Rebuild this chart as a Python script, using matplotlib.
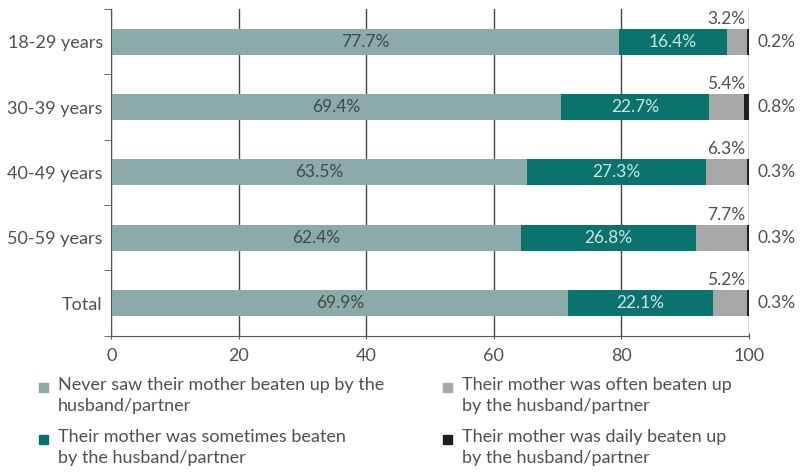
import numpy as np
import matplotlib
matplotlib.use("Agg")
import matplotlib.pyplot as plt
from matplotlib.patches import Rectangle

categories = ["18-29 years", "30-39 years", "40-49 years", "50-59 years", "Total"]
never = [77.7, 69.4, 63.5, 62.4, 69.9]
sometimes = [16.4, 22.7, 27.3, 26.8, 22.1]
often = [3.2, 5.4, 6.3, 7.7, 5.2]
daily = [0.2, 0.8, 0.3, 0.3, 0.3]

series_names = ["Never saw their mother beaten up by the\nhusband/partner",
                "Their mother was sometimes beaten\nby the husband/partner",
                "Their mother was often beaten up\nby the husband/partner",
                "Their mother was daily beaten up\nby the husband/partner"]
colors = ["#8aabaa", "#0b736d", "#a7a8aa", "#231f20"]

plt.rcParams['font.family'] = ['Lato', 'DejaVu Sans']
text_color = '#505050'

fig = plt.figure(figsize=(8, 4.75), dpi=100)
ax = fig.add_axes([0.139, 0.293, 0.797, 0.688])

data = np.array([never, sometimes, often, daily])
totals = data.sum(axis=0)
shares = data / totals * 100
y = np.arange(len(categories))
left = np.zeros(len(categories))
for i in range(4):
    ax.barh(y, shares[i], left=left, height=0.4, color=colors[i], zorder=2)
    left += shares[i]

# value labels
for j in range(len(categories)):
    c1 = shares[0, j] / 2
    ax.text(c1, y[j], f"{never[j]}%", ha='center', va='center',
            fontsize=12.5, color='#3f4a4a', zorder=3)
    c2 = shares[0, j] + shares[1, j] / 2
    ax.text(c2, y[j], f"{sometimes[j]}%", ha='center', va='center',
            fontsize=12.5, color='#cfe3e0', zorder=3)
    ax.text(99.4, y[j] - 0.23, f"{often[j]}%", ha='right', va='bottom',
            fontsize=12.5, color=text_color)
    ax.text(101.4, y[j], f"{daily[j]}%", ha='left', va='center',
            fontsize=12.5, color=text_color, clip_on=False)

ax.set_xlim(0, 100)
ax.set_ylim(len(categories) - 0.5, -0.5)
ax.set_xticks([0, 20, 40, 60, 80, 100])
ax.set_yticks(y)
ax.set_yticklabels(categories)
ax.set_yticks(np.arange(-0.5, len(categories)), minor=True)
ax.tick_params(axis='y', which='major', length=0, pad=6, labelsize=13,
               labelcolor=text_color)
ax.tick_params(axis='y', which='minor', length=5, color='#555555')
ax.tick_params(axis='x', length=5, direction='inout', pad=6, labelsize=13,
               labelcolor=text_color, color='#555555')

ax.grid(axis='x', color='#444444', linewidth=1, zorder=0)
for s in ['top', 'right']:
    ax.spines[s].set_visible(False)
for s in ['left', 'bottom']:
    ax.spines[s].set_color('#555555')

# legend, two columns, marker on first line
W, H = 800.0, 475.0
legend_pos = [(39, 383), (39, 435), (443, 383), (443, 435)]
order = [0, 1, 2, 3]
for k, (px, py) in zip(order, legend_pos):
    fig.patches.append(Rectangle((px / W, 1 - (py + 9) / H), 9 / W, 9 / H,
                                 transform=fig.transFigure, color=colors[k]))
    fig.text((px + 19) / W, 1 - (py - 6) / H, series_names[k], ha='left',
             va='top', fontsize=13, color=text_color, linespacing=1.4)

fig.savefig("out.png", dpi=100)
